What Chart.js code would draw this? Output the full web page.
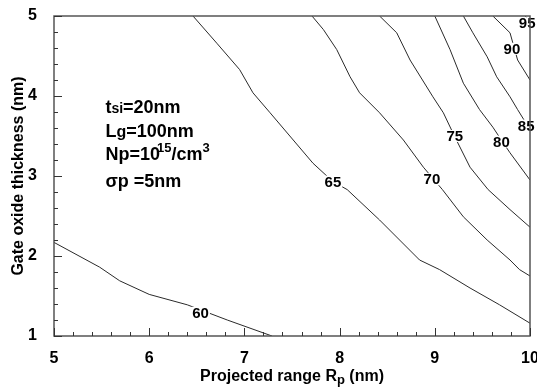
<!DOCTYPE html>
<html>
<head>
<meta charset="utf-8">
<script src="https://cdn.jsdelivr.net/npm/chart.js@4/dist/chart.umd.min.js"></script>
<style>
  html, body { margin: 0; padding: 0; background: #fff; }
  #wrap { width: 537px; height: 388px; }
</style>
</head>
<body>
<div id="wrap"><canvas id="chart"></canvas></div>
<script>
// contour lines (x = projected range, y = oxide thickness)
var x60 = [5.0, 5.48, 5.69, 6.0, 6.4, 6.82, 7.29];
var y60 = [2.17, 1.86, 1.69, 1.52, 1.39, 1.2, 1.0];
var x65 = [6.46, 6.71, 6.95, 7.09, 7.27, 7.72, 7.93, 8.08, 8.42, 8.84, 9.05, 9.37, 9.68, 10.0];
var y65 = [5.0, 4.66, 4.33, 4.04, 3.79, 3.16, 2.93, 2.83, 2.45, 1.95, 1.83, 1.6, 1.39, 1.16];
var x70 = [7.71, 7.83, 7.97, 8.11, 8.21, 8.42, 8.67, 8.88, 9.08, 9.3, 9.55, 9.79, 9.89, 10.0];
var y70 = [5.0, 4.83, 4.58, 4.24, 4.04, 3.79, 3.45, 3.11, 2.83, 2.49, 2.2, 1.95, 1.83, 1.75];
var x75 = [8.42, 8.6, 8.74, 8.98, 9.09, 9.21, 9.37, 9.56, 9.79, 10.0];
var y75 = [5.0, 4.79, 4.45, 3.99, 3.79, 3.49, 3.11, 2.83, 2.58, 2.36];
var x80 = [9.0, 9.16, 9.3, 9.47, 9.61, 9.71, 9.79, 10.0];
var y80 = [5.0, 4.58, 4.16, 3.83, 3.61, 3.43, 3.29, 2.95];
var x85 = [9.3, 9.4, 9.55, 9.65, 9.79, 9.87, 10.0];
var y85 = [5.0, 4.79, 4.49, 4.24, 3.99, 3.83, 3.58];
var x90 = [9.61, 9.79, 9.87, 10.0];
var y90 = [5.0, 4.79, 4.45, 4.2];
var x95 = [9.95, 10.0];
var y95 = [5.0, 4.93];

var levels = [60, 65, 70, 75, 80, 85, 90, 95];
var labelX = [6.54, 7.93, 8.97, 9.21, 9.7, 9.96, 9.81, 9.97];
var labelY = [1.29, 2.93, 2.96, 3.5, 3.43, 3.63, 4.59, 4.91];

var xTicks = [5, 6, 7, 8, 9, 10];
var yTicks = [1, 2, 3, 4, 5];

var lines = [[x60, y60], [x65, y65], [x70, y70], [x75, y75], [x80, y80], [x85, y85], [x90, y90], [x95, y95]];

function toPoints(xs, ys) {
  return xs.map(function(v, i) { return { x: v, y: ys[i] }; });
}

var datasets = lines.map(function(l, i) {
  return {
    label: String(levels[i]),
    data: toPoints(l[0], l[1]),
    showLine: true,
    borderColor: '#2a2a2a',
    borderWidth: 1,
    pointRadius: 0,
    tension: 0
  };
});

var FONT = '"Liberation Sans", Arial, sans-serif';

// draw a run of text pieces (size, dy, dx) from left to right
function drawRun(ctx, x, y, parts) {
  var cx = x;
  parts.forEach(function(p) {
    ctx.font = 'bold ' + p.s + 'px ' + FONT;
    cx += (p.dx || 0);
    ctx.fillText(p.t, cx, y + (p.dy || 0));
    cx += ctx.measureText(p.t).width;
  });
}

var framePlugin = {
  id: 'frame',
  afterDatasetsDraw: function(chart) {
    var ctx = chart.ctx;
    var a = chart.chartArea;
    var xs = chart.scales.x, ys = chart.scales.y;
    ctx.save();

    // contour labels on white boxes
    ctx.font = 'bold 15px ' + FONT;
    ctx.textAlign = 'center';
    ctx.textBaseline = 'middle';
    levels.forEach(function(lv, i) {
      var px = xs.getPixelForValue(labelX[i]);
      var py = ys.getPixelForValue(labelY[i]);
      var w = ctx.measureText(String(lv)).width;
      ctx.fillStyle = '#fff';
      ctx.fillRect(px - w / 2 - 1, py - 6, w + 2, 12);
      ctx.fillStyle = '#000';
      ctx.fillText(String(lv), px, py + 1);
    });

    // frame
    ctx.strokeStyle = '#555';
    ctx.lineWidth = 1.5;
    ctx.strokeRect(a.left, a.top, a.right - a.left, a.bottom - a.top);

    // inward ticks, major every 1, minor every 0.2
    ctx.lineWidth = 1;
    ctx.strokeStyle = '#333';
    ctx.beginPath();
    for (var k = 0; k <= 25; k++) {
      var v = 5 + k * 0.2;
      var px = Math.round(xs.getPixelForValue(v)) + 0.5;
      var len = (k % 5 === 0) ? 8 : 4;
      ctx.moveTo(px, a.bottom);
      ctx.lineTo(px, a.bottom - len);
    }
    for (var j = 0; j <= 20; j++) {
      var w2 = 1 + j * 0.2;
      var py = Math.round(ys.getPixelForValue(w2)) + 0.5;
      var len2 = (j % 5 === 0) ? 8 : 4;
      ctx.moveTo(a.left, py);
      ctx.lineTo(a.left + len2, py);
    }
    ctx.stroke();

    // parameter block
    ctx.fillStyle = '#000';
    ctx.textAlign = 'left';
    ctx.textBaseline = 'alphabetic';
    var tx = xs.getPixelForValue(5.54);
    drawRun(ctx, tx, ys.getPixelForValue(3.79), [{ t: 't', s: 18 }, { t: 'si', s: 14 }, { t: '=20nm', s: 18 }]);
    drawRun(ctx, tx, ys.getPixelForValue(3.49), [{ t: 'L', s: 18 }, { t: 'g', s: 16 }, { t: '=100nm', s: 18 }]);
    drawRun(ctx, tx, ys.getPixelForValue(3.2), [{ t: 'Np=10', s: 18 }, { t: '15', s: 13, dy: -8, dx: -3 }, { t: '/cm', s: 18 }, { t: '3', s: 13, dy: -8 }]);
    drawRun(ctx, tx, ys.getPixelForValue(2.86), [{ t: '\u03c3p =5nm', s: 18 }]);

    // axis titles
    var cxT = (a.left + a.right) / 2;
    var parts = [{ t: 'Projected range R', s: 16 }, { t: 'p', s: 13, dy: 3 }, { t: ' (nm)', s: 16 }];
    var tw = 0;
    parts.forEach(function(p) { ctx.font = 'bold ' + p.s + 'px ' + FONT; tw += ctx.measureText(p.t).width; });
    drawRun(ctx, cxT - tw / 2, 381, parts);

    ctx.translate(23, (a.top + a.bottom) / 2);
    ctx.rotate(-Math.PI / 2);
    ctx.textAlign = 'center';
    ctx.font = 'bold 16px ' + FONT;
    ctx.fillText('Gate oxide thickness (nm)', 0, 0);
    ctx.restore();
  }
};

new Chart(document.getElementById('chart'), {
  type: 'scatter',
  data: { datasets: datasets },
  options: {
    responsive: true,
    maintainAspectRatio: false,
    animation: false,
    layout: { padding: { top: 16, right: 7, left: 0, bottom: 0 } },
    plugins: { legend: { display: false }, tooltip: { enabled: false } },
    scales: {
      x: {
        type: 'linear',
        min: 5,
        max: 10,
        afterBuildTicks: function(s) { s.ticks = xTicks.map(function(v) { return { value: v }; }); },
        afterFit: function(s) { s.height = 52; s.paddingLeft = 0; s.paddingRight = 0; },
        grid: { display: false },
        border: { display: false },
        ticks: { color: '#000', padding: 5, maxRotation: 0, font: { family: FONT, size: 16, weight: 'bold' } }
      },
      y: {
        type: 'linear',
        min: 1,
        max: 5,
        afterBuildTicks: function(s) { s.ticks = yTicks.map(function(v) { return { value: v }; }); },
        afterFit: function(s) { s.width = 54; s.paddingTop = 0; s.paddingBottom = 0; },
        grid: { display: false },
        border: { display: false },
        ticks: { color: '#000', padding: 9, font: { family: FONT, size: 16, weight: 'bold' } }
      }
    }
  },
  plugins: [framePlugin]
});
</script>
</body>
</html>
